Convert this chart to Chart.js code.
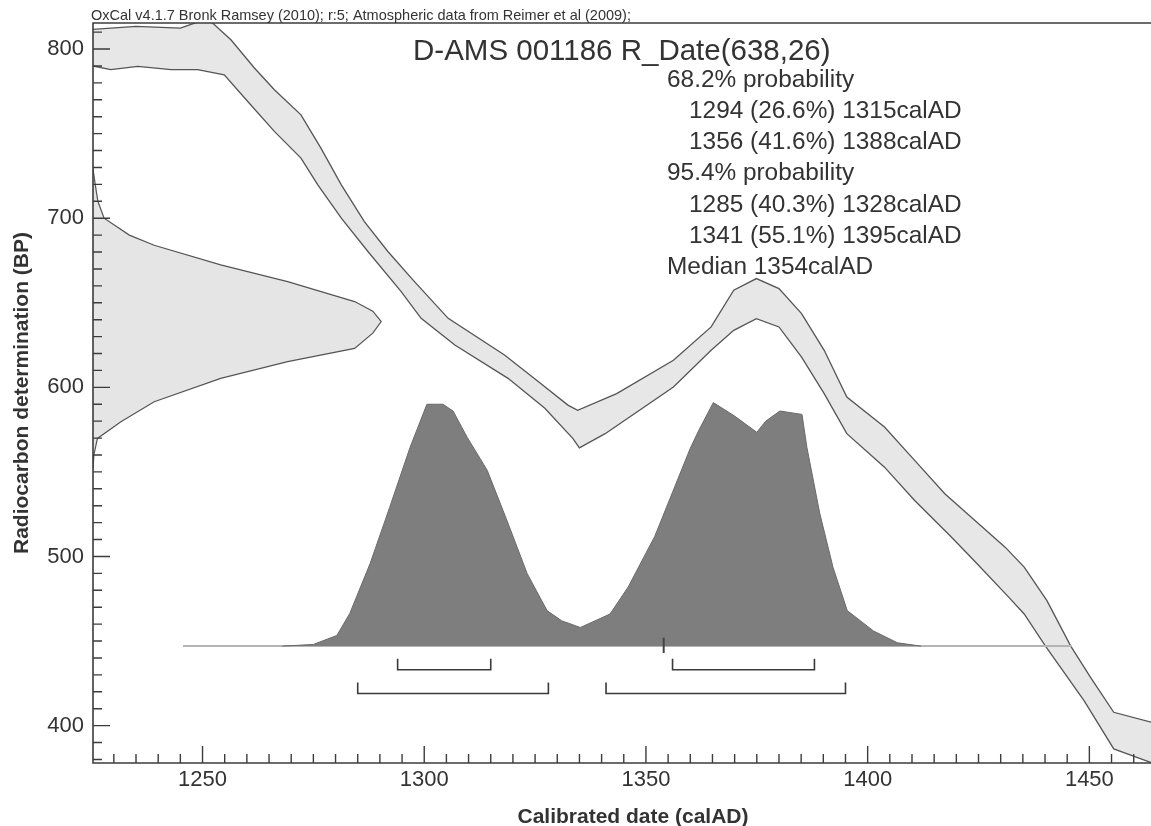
<!DOCTYPE html>
<html>
<head>
<meta charset="utf-8">
<script src="https://cdn.jsdelivr.net/npm/chart.js@4.4.1/dist/chart.umd.min.js"></script>
<style>
    html, body { margin: 0; padding: 0; background: #fff; }
    #wrap { width: 1151px; height: 826px; }
</style>
</head>
<body>
<div id="wrap"><canvas id="calCanvas"></canvas></div>
<script>
// calibration curve band (IntCal09), year AD -> BP
const curveUpperYears = [1224, 1235, 1245, 1249, 1252, 1256.4, 1261.7, 1266.2, 1272.2, 1276.7, 1281.3, 1286.5, 1291.8, 1297.8, 1305.4, 1318.1, 1325.7, 1332.4, 1334.6, 1343.4, 1356.2, 1364.7, 1369.8, 1374.9, 1380, 1385.1, 1390.2, 1395.3, 1403.8, 1410.6, 1417.4, 1424.2, 1431, 1435.3, 1440.4, 1445.8, 1450.3, 1455.5, 1463.9, 1468];
const curveUpperBP = [811.4, 813.4, 812.4, 816, 816, 805.5, 788.8, 775.9, 761.1, 741.4, 719.7, 698, 680.3, 662.5, 640.8, 619.1, 603.4, 589.5, 586.4, 596.3, 616, 635.7, 657.4, 664.3, 658.4, 643.6, 621.9, 594.3, 576.5, 556.8, 537.1, 521.3, 505.5, 493.7, 474, 447, 428.4, 407.9, 402, 400.5];
const curveLowerYears = [1224, 1229.3, 1235.4, 1242.9, 1248.9, 1254.9, 1260.2, 1266.2, 1272.2, 1276, 1281.3, 1287.3, 1294.8, 1299.3, 1306.9, 1318.9, 1327.2, 1333.5, 1335, 1340.8, 1356.2, 1364.7, 1369.8, 1374.9, 1380, 1385.1, 1390.2, 1395.3, 1403.8, 1410.6, 1418.7, 1424.2, 1431.8, 1435.3, 1440.1, 1448.8, 1455.5, 1463.8, 1468];
const curveLowerBP = [790.7, 787.8, 789.8, 787.8, 787.8, 784.8, 769, 751.3, 735.5, 719.7, 700, 680.3, 656.6, 640.8, 625, 605.3, 587.6, 569.8, 564.2, 572.6, 600.2, 621.9, 633.7, 640.6, 635.7, 617.9, 596.3, 572.6, 552.8, 533.1, 512, 497, 476, 466, 447, 414.8, 386.2, 378.3, 376];

// radiocarbon measurement 638 +/- 26 drawn on the BP axis (BP -> year reached)
const measBP = [729, 720, 710, 700, 690, 684, 672.4, 662.5, 650.7, 645, 638.9, 632, 623, 615.2, 605.3, 591.5, 579.7, 569.8, 560, 552];
const measYear = [1225.3, 1225.8, 1226.4, 1227.8, 1233.5, 1239.1, 1254.1, 1269.2, 1284.3, 1288.4, 1290.3, 1288.4, 1284.3, 1269.2, 1254.1, 1239.1, 1231.6, 1226.3, 1225.5, 1225.3];

// calibrated probability distribution (year -> drawn height in BP units)
const probYears = [1268, 1275, 1277, 1280.3, 1283.2, 1287.8, 1292.2, 1296.8, 1300.6, 1304.2, 1306.5, 1309.7, 1314.2, 1318.7, 1323.2, 1327.7, 1331, 1335.2, 1341.9, 1346, 1352, 1356, 1360, 1362, 1365.2, 1370, 1375, 1377, 1380.2, 1385.2, 1386.3, 1389.2, 1392.2, 1395.4, 1401.3, 1406.7, 1412];
const probBP = [447, 448, 450, 453.3, 466.3, 495.9, 529, 564.5, 590, 590, 586, 570.4, 551, 521, 490, 468, 462, 458, 466, 482, 512, 538, 564, 575, 591, 583, 573.4, 580, 586, 584, 564.5, 525.5, 493.5, 468, 456, 449, 447];
const probBaseBP = 447;
const probLineYears = [1245.6, 1446];

// calibrated ranges
const range68 = [[1294, 1315], [1356, 1388]];
const range95 = [[1285, 1328], [1341, 1395]];
const medianYear = 1354;

// axes
const xMin = 1225.3, xMax = 1463.9;
const yMin = 377.9, yMax = 815.4;
const xTickLabels = [1250, 1300, 1350, 1400, 1450];
const yTickLabels = [400, 500, 600, 700, 800];
const xMinorStep = 5, yMinorStep = 10;

const creditText = "OxCal v4.1.7 Bronk Ramsey (2010); r:5; Atmospheric data from Reimer et al (2009);";
const sampleTitle = "D-AMS 001186 R_Date(638,26)";
const resultLines = [
    ["68.2% probability", 0],
    ["1294 (26.6%) 1315calAD", 1],
    ["1356 (41.6%) 1388calAD", 1],
    ["95.4% probability", 0],
    ["1285 (40.3%) 1328calAD", 1],
    ["1341 (55.1%) 1395calAD", 1],
    ["Median 1354calAD", 0],
];

const FONT = "'Liberation Sans', Arial, Helvetica, sans-serif";
const TEXT = "#333";

function zipXY(xs, ys) {
    return xs.map((x, i) => ({ x: x, y: ys[i] }));
}
function bracket(range, level, lift) {
    return [
        { x: range[0], y: level + lift },
        { x: range[0], y: level },
        { x: range[1], y: level },
        { x: range[1], y: level + lift },
    ];
}

const bandPoly = zipXY(curveUpperYears, curveUpperBP).concat(
    zipXY(curveLowerYears, curveLowerBP).reverse()
);
const measPoly = measBP.map((bp, i) => ({ x: measYear[i], y: bp }));

const datasets = [];
range68.forEach((r) => {
    datasets.push({ data: bracket(r, 433, 6.5), borderColor: "#3a3a3a", borderWidth: 1.6, fill: false });
});
range95.forEach((r) => {
    datasets.push({ data: bracket(r, 419, 6.5), borderColor: "#3a3a3a", borderWidth: 1.6, fill: false });
});
datasets.push({
    data: [{ x: medianYear, y: probBaseBP + 5 }, { x: medianYear, y: probBaseBP - 4 }],
    borderColor: "#444", borderWidth: 2, fill: false,
});
datasets.push({
    data: zipXY(probYears, probBP),
    borderColor: "#6a6a6a", borderWidth: 1, backgroundColor: "#7e7e7e",
    fill: { value: probBaseBP },
});
datasets.push({
    data: probLineYears.map((yr) => ({ x: yr, y: probBaseBP })),
    borderColor: "#b4b4b4", borderWidth: 2, fill: false,
});
datasets.push({
    data: bandPoly, borderColor: "#555", borderWidth: 1.3,
    backgroundColor: "#e7e7e7", fill: "shape",
});
datasets.push({
    data: measPoly, borderColor: "#555", borderWidth: 1.2,
    backgroundColor: "#e5e5e5", fill: "shape",
});

const oxcalDecor = {
    id: "oxcalDecor",
    afterDraw(chart) {
        const ctx = chart.ctx;
        const a = chart.chartArea;
        const xs = chart.scales.x;
        const ys = chart.scales.y;
        ctx.save();
        ctx.strokeStyle = "#3c3c3c";
        ctx.lineWidth = 1.6;
        // frame: left, bottom, top
        ctx.beginPath();
        ctx.moveTo(a.right, a.top);
        ctx.lineTo(a.left, a.top);
        ctx.lineTo(a.left, a.bottom);
        ctx.lineTo(a.right, a.bottom);
        ctx.stroke();
        // inward ticks
        ctx.lineWidth = 1.4;
        ctx.beginPath();
        for (let v = Math.ceil(xMin / xMinorStep) * xMinorStep; v <= xMax; v += xMinorStep) {
            const px = xs.getPixelForValue(v);
            const len = v % 50 === 0 ? 17 : 9;
            ctx.moveTo(px, a.bottom);
            ctx.lineTo(px, a.bottom - len);
        }
        for (let v = Math.ceil(yMin / yMinorStep) * yMinorStep; v <= yMax; v += yMinorStep) {
            const py = ys.getPixelForValue(v);
            const len = v % 100 === 0 ? 17 : 9;
            ctx.moveTo(a.left, py);
            ctx.lineTo(a.left + len, py);
        }
        ctx.stroke();

        ctx.fillStyle = TEXT;
        ctx.textBaseline = "alphabetic";
        ctx.textAlign = "left";
        ctx.font = "14.5px " + FONT;
        ctx.fillText(creditText, 91, 20);

        ctx.textBaseline = "middle";
        ctx.font = "29.5px " + FONT;
        ctx.fillText(sampleTitle, 413, 52);
        ctx.font = "24.4px " + FONT;
        resultLines.forEach((ln, i) => {
            ctx.fillText(ln[0], ln[1] ? 689 : 667, 80 + i * 31.2);
        });

        ctx.font = "bold 21px " + FONT;
        ctx.textAlign = "center";
        ctx.fillText("Calibrated date (calAD)", 633, 817);
        ctx.translate(22, (a.top + a.bottom) / 2);
        ctx.rotate(-Math.PI / 2);
        ctx.fillText("Radiocarbon determination (BP)", 0, 0);
        ctx.restore();
    },
};

const config = {
    type: "scatter",
    data: { datasets: datasets },
    options: {
        responsive: false,
        animation: false,
        showLine: true,
        elements: { point: { radius: 0, hoverRadius: 0 }, line: { tension: 0 } },
        layout: { padding: { top: 23, right: 0, bottom: 0, left: 0 } },
        plugins: { legend: { display: false }, tooltip: { enabled: false } },
        scales: {
            x: {
                type: "linear",
                min: xMin,
                max: xMax,
                grid: { display: false, drawTicks: false },
                border: { display: false },
                afterBuildTicks: (axis) => {
                    axis.ticks = xTickLabels.map((v) => ({ value: v }));
                },
                afterFit: (axis) => {
                    axis.height = 63;
                },
                ticks: {
                    autoSkip: false,
                    maxRotation: 0,
                    padding: 4,
                    color: TEXT,
                    font: { family: FONT, size: 22 },
                    callback: (v) => String(v),
                },
            },
            y: {
                type: "linear",
                min: yMin,
                max: yMax,
                grid: { display: false, drawTicks: false },
                border: { display: false },
                afterBuildTicks: (axis) => {
                    axis.ticks = yTickLabels.map((v) => ({ value: v }));
                },
                afterFit: (axis) => {
                    axis.width = 93;
                },
                ticks: {
                    autoSkip: false,
                    padding: 9,
                    color: TEXT,
                    font: { family: FONT, size: 22 },
                    callback: (v) => String(v),
                },
            },
        },
    },
    plugins: [oxcalDecor],
};

const canvas = document.getElementById("calCanvas");
canvas.width = 1151;
canvas.height = 826;
new Chart(canvas, config);
</script>
</body>
</html>
